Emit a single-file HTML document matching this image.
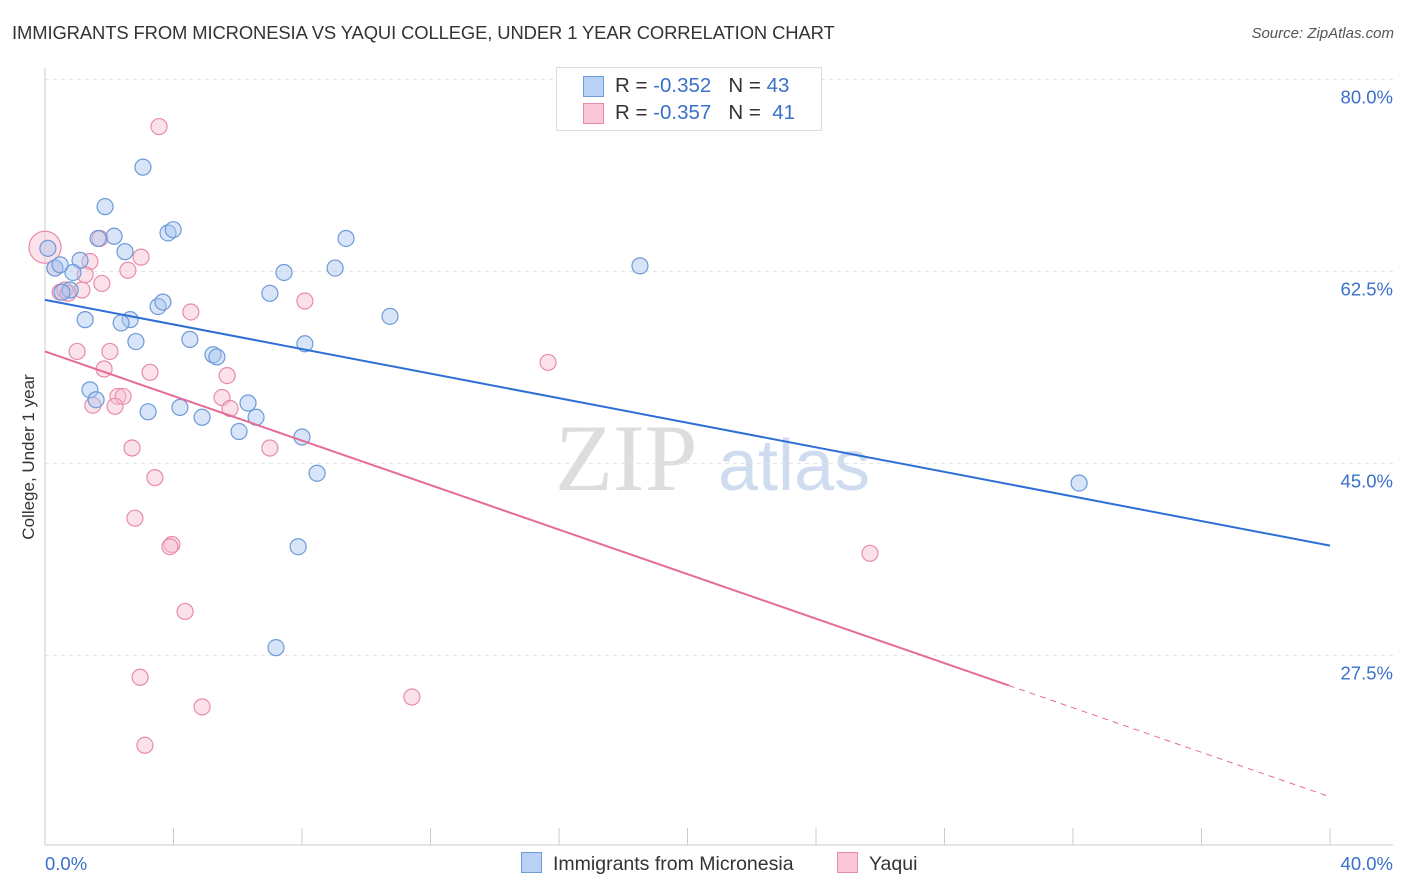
<!DOCTYPE html>
<html><head><meta charset="utf-8"><style>
body{margin:0;background:#fff;font-family:"Liberation Sans",sans-serif;}
#wrap{position:relative;width:1406px;height:892px;overflow:hidden;}
.t{position:absolute;white-space:nowrap;}
</style></head><body>
<div id="wrap">
<div class="t" style="left:12px;top:22px;font-size:18.4px;color:#333;letter-spacing:-0.1px;">IMMIGRANTS FROM MICRONESIA VS YAQUI COLLEGE, UNDER 1 YEAR CORRELATION CHART</div>
<div class="t" style="right:12px;top:25px;font-size:15px;color:#555;font-style:italic;">Source: ZipAtlas.com</div>
<svg id="svg" width="1406" height="892" style="position:absolute;left:0;top:0;"></svg>
</div>
<script>
const xTicks=[0,40];
const yTicks=[27.5,45,62.5,80];
const blueX=[0.09,0.31,1.09,0.87,0.78,0.53,1.87,2.15,1.65,2.49,1.25,2.65,2.37,3.52,3.67,3.05,3.83,3.99,2.83,4.51,5.23,5.35,1.40,1.59,3.21,4.20,4.89,6.32,6.57,6.04,7.00,7.44,8.09,8.00,8.47,7.88,7.19,9.03,9.37,10.74,18.52,32.19,0.47];
const blueY=[64.6,62.8,63.5,62.4,60.8,60.6,68.4,65.7,65.5,64.3,58.1,58.1,57.8,59.3,59.7,72.0,66.0,66.3,56.1,56.3,54.9,54.7,51.7,50.8,49.7,50.1,49.2,50.5,49.2,47.9,60.5,62.4,55.9,47.4,44.1,37.4,28.2,62.8,65.5,58.4,63.0,43.2,63.1];
const pinkX=[0,0.31,0.47,0.62,1.40,1.15,1.25,0.72,1.71,1.77,2.58,2.99,1.00,2.02,1.84,3.27,2.27,2.43,2.18,1.49,4.54,5.67,5.51,5.76,8.09,7.00,2.71,3.42,2.80,3.95,3.89,4.36,2.96,4.89,3.11,11.42,15.66,25.68,3.55];
const pinkY=[64.7,62.8,60.6,60.8,63.4,60.8,62.2,60.5,65.5,61.4,62.6,63.8,55.2,55.2,53.6,53.3,51.1,51.1,50.2,50.3,58.8,53.0,51.0,50.0,59.8,46.4,46.4,43.7,40.0,37.6,37.4,31.5,25.5,22.8,19.3,23.7,54.2,36.8,75.7];
const blueLine=[59.9,37.5];
const pinkLine=[55.2,14.6];
const pinkSolidEnd=30.0;

const X=v=>45+v/40*1285;
const Y=v=>957-v*10.97;
const svg=document.getElementById('svg');
const NS='http://www.w3.org/2000/svg';
function mk(t,a){const e=document.createElementNS(NS,t);for(const k in a)e.setAttribute(k,a[k]);svg.appendChild(e);return e;}
let w=mk('text',{x:555,y:490,'font-size':95,fill:'#ddd','font-family':'Liberation Serif'});w.textContent='ZIP';

w=mk('text',{x:718,y:490,'font-size':72,fill:'#cfdcef','font-family':'Liberation Sans'});w.textContent='atlas';

yTicks.forEach(v=>{const l=mk('line',{x1:45,x2:1393,y1:Y(v),y2:Y(v),stroke:'#e3e3e3','stroke-dasharray':'4,4'});

const t=mk('text',{x:1393,y:Y(v)+24,'text-anchor':'end','font-size':18.5,fill:'#3a70c9'});t.textContent=v.toFixed(1)+'%';
});
let a=mk('line',{x1:45,x2:45,y1:68,y2:845,stroke:'#ccc'});
a=mk('line',{x1:45,x2:1393,y1:845,y2:845,stroke:'#ccc'});
for(let i=0;i<=10;i++){const tk=mk('line',{x1:X(i*4),x2:X(i*4),y1:828,y2:845,stroke:'#ccc'});}
xTicks.forEach((v,i)=>{const t=mk('text',{x:i?1393:45,y:870,'text-anchor':i?'end':'start','font-size':18.5,fill:'#3a70c9'});t.textContent=v.toFixed(1)+'%';
});
let yt=mk('text',{x:0,y:0,'font-size':17,fill:'#333','text-anchor':'middle',transform:'translate(34,457) rotate(-90)'});yt.textContent='College, Under 1 year';

function pts(xs,ys,fill,stroke,name){xs.forEach((x,i)=>{const c=mk('circle',{cx:X(x),cy:Y(ys[i]),r:i==0&&name=='pink-point'?16:8,fill:fill,'fill-opacity':0.45,stroke:stroke,'stroke-width':1.2});
});}
pts(pinkX,pinkY,'#f7bed0','#e98bab','pink-point');
pts(blueX,blueY,'#a9c6f0','#6d9ad8','blue-point');
let l=mk('line',{x1:X(0),y1:Y(blueLine[0]),x2:X(40),y2:Y(blueLine[1]),stroke:'#2e6fd6','stroke-width':2});

const py=x=>pinkLine[0]+(pinkLine[1]-pinkLine[0])*x/40;
l=mk('line',{x1:X(0),y1:Y(py(0)),x2:X(pinkSolidEnd),y2:Y(py(pinkSolidEnd)),stroke:'#e56b98','stroke-width':2});

l=mk('line',{x1:X(pinkSolidEnd),y1:Y(py(pinkSolidEnd)),x2:X(40),y2:Y(py(40)),stroke:'#e56b98','stroke-width':1,'stroke-dasharray':'6,5'});

</script>
<div class="t" style="left:556px;top:67px;width:264px;height:62px;border:1px solid #ddd;background:#fff;font-size:20.5px;color:#333;">
<div style="position:absolute;left:26px;top:8px;width:19px;height:19px;background:#b8d1f5;border:1px solid #6d9ad8;"></div>
<div style="position:absolute;left:58px;top:6px;">R = <span style="color:#3a70c9">-0.352</span> &nbsp;&nbsp;N = <span style="color:#3a70c9">43</span></div>
<div style="position:absolute;left:26px;top:35px;width:19px;height:19px;background:#f9c7d7;border:1px solid #e98bab;"></div>
<div style="position:absolute;left:58px;top:33px;">R = <span style="color:#3a70c9">-0.357</span> &nbsp;&nbsp;N = &nbsp;<span style="color:#3a70c9">41</span></div>
</div>
<div class="t" style="left:521px;top:852px;font-size:19.5px;color:#333;"><span style="display:inline-block;width:19px;height:19px;background:#b8d1f5;border:1px solid #6d9ad8;vertical-align:-3px;margin-right:11px;"></span>Immigrants from Micronesia</div>
<div class="t" style="left:837px;top:852px;font-size:19.5px;color:#333;"><span style="display:inline-block;width:19px;height:19px;background:#f9c7d7;border:1px solid #e98bab;vertical-align:-3px;margin-right:11px;"></span>Yaqui</div>
</body></html>
